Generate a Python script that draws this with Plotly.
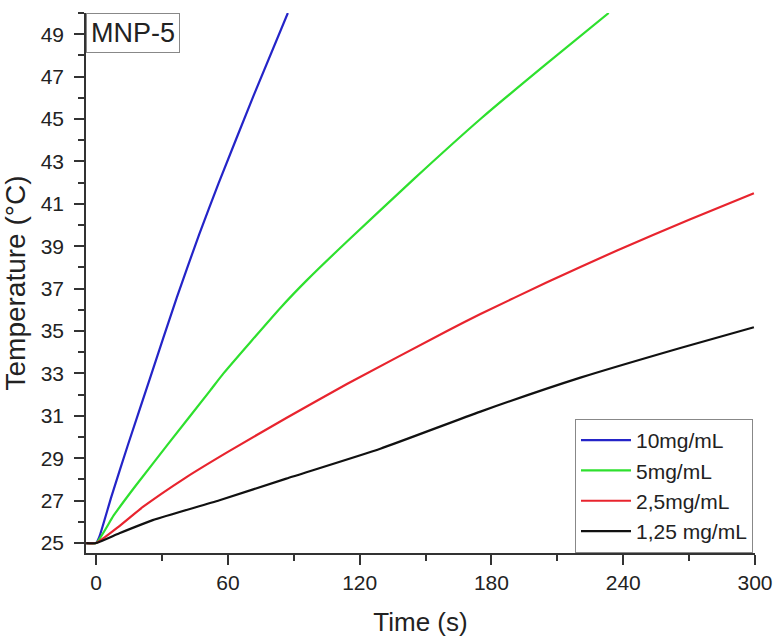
import plotly.graph_objects as go

# ---- data ----
t_10 = [-4.5, 0, 1.5, 7, 14.4, 24.3, 36.8, 46.9, 55.7, 71.7, 87.3]
T_10 = [25.0, 25.0, 25.3, 27.2, 29.6, 32.7, 36.6, 39.55, 41.95, 46.1, 50.0]

t_5 = [-4.5, 0, 8, 18, 33, 52, 58, 84, 96, 114, 145, 175, 205, 233.4]
T_5 = [25.0, 25.0, 26.3, 27.7, 29.7, 32.2, 33.0, 36.1, 37.4, 39.2, 42.2, 45.0, 47.6, 50.0]

t_25 = [-4.5, 0, 10.6, 21.3, 41, 60, 86.6, 114.2, 159.8, 175, 205.3, 237.2, 270, 299.5]
T_25 = [25.0, 25.0, 25.8, 26.7, 28.1, 29.3, 30.9, 32.5, 35.0, 35.8, 37.3, 38.8, 40.25, 41.5]

t_125 = [-4.5, 0, 10.6, 25.8, 56.2, 86.6, 129.4, 175, 220.5, 266, 299.5]
T_125 = [25.0, 25.0, 25.46, 26.08, 27.02, 28.04, 29.45, 31.2, 32.8, 34.2, 35.18]

names = ["10mg/mL", "5mg/mL", "2,5mg/mL", "1,25 mg/mL"]
colors = ["#2424c8", "#2ee02e", "#e8242e", "#111111"]

x_ticks = [0, 60, 120, 180, 240, 300]
y_ticks = list(range(25, 50, 2))

fig = go.Figure()
for t, T, n, c in zip([t_10, t_5, t_25, t_125], [T_10, T_5, T_25, T_125], names, colors):
    fig.add_trace(go.Scatter(x=t, y=T, mode="lines", name=n,
                             line=dict(color=c, width=2.2, shape="spline", smoothing=0.5)))

font = "Liberation Sans, Arial, sans-serif"
axis_common = dict(showline=True, linecolor="#333333", linewidth=1.5, showgrid=False,
                   zeroline=False, ticks="outside", ticklen=10, tickwidth=1.5,
                   tickcolor="#333333", tickfont=dict(family=font, size=21, color="#222222"))

fig.update_xaxes(range=[-4.6, 300], tickvals=x_ticks, ticklabelstandoff=0,
                 title=dict(text="Time (s)", font=dict(family=font, size=26, color="#222222"),
                            standoff=20),
                 minor=dict(dtick=30, tick0=0, ticks="outside", ticklen=6, tickwidth=1.5,
                            tickcolor="#333333", showgrid=False),
                 **axis_common)
fig.update_yaxes(range=[24.53, 50], tickvals=y_ticks, ticklabelstandoff=6,
                 title=dict(text="Temperature (°C)", font=dict(family=font, size=28, color="#222222"),
                            standoff=14),
                 minor=dict(dtick=1, tick0=25, ticks="outside", ticklen=6, tickwidth=1.5,
                            tickcolor="#333333", showgrid=False),
                 **axis_common)

fig.add_annotation(xref="paper", yref="paper", x=0, y=1, xanchor="left", yanchor="top",
                   text="MNP-5", showarrow=False, font=dict(family=font, size=27, color="#222222"),
                   bordercolor="#888888", borderwidth=1, borderpad=4, bgcolor="white")

fig.update_layout(
    width=776, height=639,
    margin=dict(l=86, r=21, t=13, b=86, autoexpand=False),
    plot_bgcolor="white", paper_bgcolor="white",
    font=dict(family=font, color="#222222"),
    legend=dict(x=0.997, y=0, xanchor="right", yanchor="bottom",
                bordercolor="#888888", borderwidth=1, bgcolor="white",
                font=dict(family=font, size=21, color="#222222"),
                tracegroupgap=0, itemwidth=50),
)

# remove the default page margin so the figure sits at the window's top-left corner
fig.write_html("out.html", config={"displayModeBar": False},
               post_script="document.body.style.margin='0';")
